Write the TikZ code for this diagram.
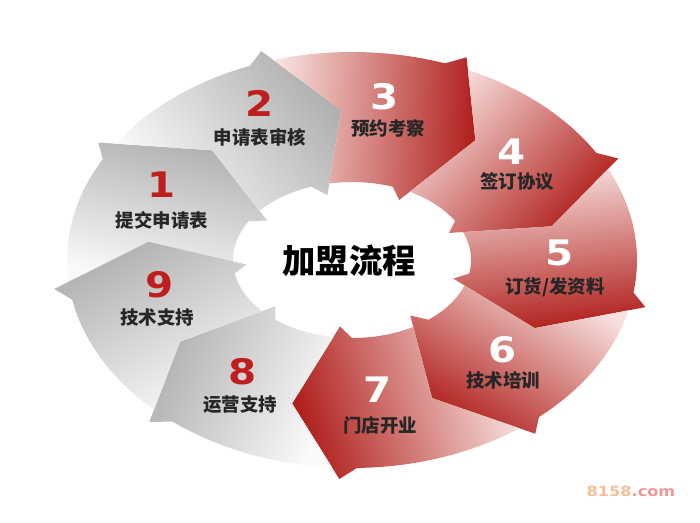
\documentclass[tikz,border=0pt]{standalone}
\usepackage{fontspec}
\usetikzlibrary{calc}
\newfontfamily\cjk{Noto Sans CJK SC}
\newfontfamily\numfont{DejaVu Sans}[FakeStretch=1.15]
\definecolor{darkred}{RGB}{176,32,28}
\definecolor{palered}{RGB}{248,226,224}
\definecolor{darkgrey}{RGB}{176,176,176}
\definecolor{palegrey}{RGB}{250,250,250}
\definecolor{numred}{RGB}{190,30,30}
\definecolor{wmorange}{RGB}{248,190,150}
\definecolor{wmpink}{RGB}{240,150,150}

\begin{document}
\begin{tikzpicture}[x=0.02cm, y=-0.02cm,
  greyarrow/.style={top color=darkgrey, bottom color=palegrey},
  redarrow/.style={top color=darkred, bottom color=palered},
  num/.style={font=\numfont\bfseries\fontsize{20}{20}\selectfont},
  lbl/.style={font=\cjk\bfseries\fontsize{10.5}{11}\selectfont, text=black!85},
  title/.style={font=\cjk\bfseries\fontsize{19}{20}\selectfont, text=black},
  wm/.style={font=\numfont\bfseries\fontsize{8}{9}\selectfont}]
\useasboundingbox (0,0) rectangle (700,522);

\foreach \j in {1,...,9}{
  \pgfmathsetmacro\b{147-40*(\j-1)}
  \coordinate (A\j) at ({352+205*cos(\b-14)},{260-150*sin(\b-14)});
  \coordinate (Po\j) at ({352+285*cos(\b-1)},{260-208*sin(\b-1)});
  \coordinate (Pi\j) at ({352+119*cos(\b-6)},{260-78*sin(\b-6)});
  \coordinate (Bo\j) at ($(A\j)!1.18!(Po\j)$);
  \coordinate (Bi\j) at ($(A\j)!1.16!(Pi\j)$);
}

\foreach \k/\p/\s in {1/9/greyarrow, 2/1/greyarrow, 3/2/redarrow, 4/3/redarrow,
  5/4/redarrow, 6/5/redarrow, 7/6/redarrow, 8/7/greyarrow, 9/8/greyarrow}{
  \pgfmathsetmacro\b{147-40*(\k-1)}
  \pgfmathsetmacro\ang{\b-160}
  \pgfmathsetmacro\os{\b+39}
  \pgfmathsetmacro\oe{\b+4}
  \pgfmathsetmacro\is{\b+3}
  \pgfmathsetmacro\ie{\b+34}
  \shade[\s, shading angle=\ang] (Po\p)
    -- plot[domain=\os:\oe, samples=30] ({352+285*cos(\x)},{260-208*sin(\x)})
    -- (Bo\k) -- (A\k) -- (Bi\k)
    -- plot[domain=\is:\ie, samples=30] ({352+119*cos(\x)},{260-78*sin(\x)})
    -- (Pi\p) -- (A\p) -- cycle;
}

\node[num, text=numred] (n1) at (162,185) {1};
\node[lbl] (l1) at (162,220) {提交申请表};
\node[num, text=numred] (n2) at (260,103) {2};
\node[lbl] (l2) at (260,137) {申请表审核};
\node[num, text=white] (n3) at (385,97) {3};
\node[lbl] (l3) at (388,128) {预约考察};
\node[num, text=white] (n4) at (512,152) {4};
\node[lbl] (l4) at (517,182) {签订协议};
\node[num, text=white] (n5) at (560,253) {5};
\node[lbl] (l5) at (555,287) {订货/发资料};
\node[num, text=white] (n6) at (503,350) {6};
\node[lbl] (l6) at (503,380) {技术培训};
\node[num, text=white] (n7) at (378,390) {7};
\node[lbl] (l7) at (380,425) {门店开业};
\node[num, text=numred] (n8) at (243,372) {8};
\node[lbl] (l8) at (240,405) {运营支持};
\node[num, text=numred] (n9) at (160,285) {9};
\node[lbl] (l9) at (157,317) {技术支持};
\node[title] (center) at (349,261) {加盟流程};
\node[wm] (mark) at (631,491) {\textcolor{wmorange}{8158}\textcolor{wmpink}{.com}};
\end{tikzpicture}
\end{document}
